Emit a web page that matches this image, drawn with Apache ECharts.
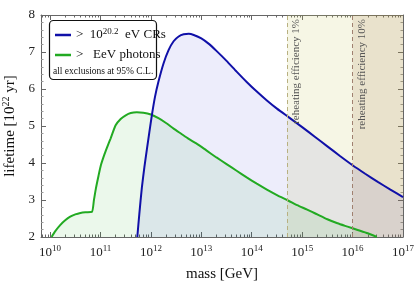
<!DOCTYPE html>
<html>
<head>
<meta charset="utf-8">
<script src="https://cdn.jsdelivr.net/npm/echarts@6/dist/echarts.min.js"></script>
<style>html,body{margin:0;padding:0;background:#fff}#c{width:415px;height:290px}</style>
</head>
<body>
<div id="c"></div>
<script>
// log10(mass / GeV) and lifetime [10^22 yr]
const blueLogMass = [11.73, 11.77, 11.82, 11.87, 11.92, 11.97, 12.02, 12.08, 12.15, 12.25, 12.35, 12.45, 12.55, 12.65, 12.75, 12.85, 13.0, 13.15, 13.3, 13.5, 13.7, 13.9, 14.1, 14.3, 14.5, 14.73, 15.0, 15.25, 15.5, 15.75, 16.0, 16.25, 16.5, 16.75, 17.0];
const blueLife    = [2.0,   2.62,  3.33,  3.88,  4.37,  4.84,  5.30,  5.78,  6.20,  6.69,  7.05,  7.29,  7.42,  7.48,  7.49,  7.46,  7.37,  7.22,  7.03, 6.76, 6.47, 6.19, 5.93, 5.69, 5.47, 5.24, 4.97, 4.71, 4.45, 4.19, 3.94, 3.71, 3.49, 3.28, 3.08];
const greenLogMass = [10.03, 10.1, 10.2, 10.3, 10.4, 10.5, 10.6, 10.7, 10.83, 10.87, 10.91, 10.96, 11.01, 11.08, 11.15, 11.2, 11.3, 11.4, 11.5, 11.6, 11.72, 11.85, 12.0, 12.15, 12.3, 12.45, 12.6, 12.75, 12.9, 13.1, 13.3, 13.5, 13.7, 13.9, 14.1, 14.3, 14.5, 14.73, 14.9, 15.1, 15.3, 15.5, 15.7, 15.9, 16.1, 16.3, 16.48];
const greenLife    = [2.00,  2.15, 2.32, 2.45, 2.55, 2.61, 2.65, 2.67, 2.68,  3.00,  3.32,  3.65,  3.95,  4.24,  4.49,  4.66, 5.02, 5.19, 5.29, 5.35, 5.37,  5.36,  5.31, 5.21,  5.08, 4.93,  4.79, 4.65,  4.53, 4.34, 4.15, 3.97, 3.79, 3.61, 3.44, 3.28, 3.13, 2.98,  2.86, 2.74, 2.61, 2.48, 2.37, 2.28, 2.19, 2.10, 2.00];
const seriesNames = ['> 10^20.2 eV CRs', '> EeV photons'];
const noteText = 'all exclusions at 95% C.L.';
const reheatLogMass = [14.7, 16];
const reheatLabels = ['reheating efficiency 1%', 'reheating efficiency 10%'];
const xMajor = [10, 11, 12, 13, 14, 15, 16, 17];
const yTicks = [2, 3, 4, 5, 6, 7, 8];
const xRange = [9.82, 17];

const xMinor = [];
for (let n = 9; n < 17; n++) for (let k = 2; k <= 9; k++) {
  const v = n + Math.log10(k);
  if (v >= xRange[0] && v <= xRange[1]) xMinor.push(v);
}
const FONT = 'Liberation Serif';
const axisColor = '#666';
function xAxisDef(pos, values, len, showLine, showLabel) {
  return {
    type: 'value', position: pos, min: xRange[0], max: xRange[1],
    axisLine: {show: showLine, lineStyle: {color: axisColor, width: 1}},
    axisTick: {show: true, inside: true, length: len, customValues: values, lineStyle: {color: axisColor}},
    axisLabel: showLabel ? {
      customValues: xMajor, margin: 7,
      formatter: v => '{b|10}{s|' + Math.round(v) + '}',
      rich: {b: {fontFamily: FONT, fontSize: 13, color: '#222'}, s: {fontFamily: FONT, fontSize: 9, color: '#222', padding: [0, 0, 8, 0]}}
    } : {show: false},
    splitLine: {show: false}
  };
}
function yAxisDef(pos, showLabel) {
  return {
    type: 'value', position: pos, min: yTicks[0], max: yTicks[yTicks.length - 1], interval: 1,
    axisLine: {show: true, lineStyle: {color: axisColor, width: 1}},
    axisTick: {show: true, inside: true, length: 5, lineStyle: {color: axisColor}},
    minorTick: {show: true, splitNumber: 5, length: 2.5, lineStyle: {color: '#999'}},
    axisLabel: showLabel ? {fontFamily: FONT, fontSize: 13, color: '#222', margin: 6} : {show: false},
    splitLine: {show: false}
  };
}
const xs = [
  xAxisDef('bottom', xMajor, 5, true, true),
  xAxisDef('bottom', xMinor, 2.5, false, false),
  xAxisDef('top', xMajor, 5, true, false),
  xAxisDef('top', xMinor, 2.5, false, false)
];
xs[0].name = 'mass [GeV]';
xs[0].nameLocation = 'middle';
xs[0].nameGap = 30;
xs[0].nameTextStyle = {fontFamily: FONT, fontSize: 15, color: '#111'};
const ys = [yAxisDef('left', true), yAxisDef('right', false)];
ys[0].name = '{t|lifetime [10}{s|22}{t| yr]}';
ys[0].nameLocation = 'middle';
ys[0].nameGap = 21;
ys[0].nameTextStyle = {rich: {t: {fontFamily: FONT, fontSize: 15, color: '#111'}, s: {fontFamily: FONT, fontSize: 10, color: '#111', padding: [0, 0, 8, 0]}}};

const zip = (a, b) => a.map((v, i) => [v, b[i]]);

const chart = echarts.init(document.getElementById('c'), null, {renderer: 'canvas'});
chart.setOption({
  animation: false,
  grid: {left: 41, right: 12, top: 15, bottom: 53, outerBoundsMode: 'none', containLabel: false},
  xAxis: xs,
  yAxis: ys,
  legend: {
    left: 50, top: 22, orient: 'vertical', itemWidth: 16, itemHeight: 2.5, itemGap: 7, icon: 'rect',
    data: seriesNames,
    formatter: name => name === seriesNames[0] ? '{t|>  10}{s|20.2}{t|  eV CRs}' : '{t|>   EeV photons}',
    textStyle: {rich: {t: {fontFamily: FONT, fontSize: 13, color: '#111'}, s: {fontFamily: FONT, fontSize: 9, color: '#111', padding: [0, 0, 7, 0]}}}
  },
  graphic: [
    {type: 'rect', z: 3, shape: {x: 49.5, y: 20.5, width: 107, height: 59, r: 4}, style: {fill: '#fff', stroke: '#111', lineWidth: 1.2}},
    {type: 'text', z: 5, x: 53, y: 71, style: {text: noteText, fontFamily: FONT, fontSize: 9.5, fill: '#111', verticalAlign: 'middle'}}
  ],
  series: [
    {
      name: 'bands', type: 'line', data: [], silent: true,
      markArea: {silent: true, data: [
        [{xAxis: reheatLogMass[0], itemStyle: {color: 'rgba(200,200,100,0.17)'}}, {xAxis: xRange[1], yAxis: 8}],
        [{xAxis: reheatLogMass[1], itemStyle: {color: 'rgba(150,100,50,0.14)'}}, {xAxis: xRange[1], yAxis: 8}]
      ]},
      markLine: {silent: true, symbol: 'none', data: [
        {xAxis: reheatLogMass[0], lineStyle: {color: '#b8b080', type: [4, 3], width: 1}, label: {formatter: reheatLabels[0]}},
        {xAxis: reheatLogMass[1], lineStyle: {color: '#a08070', type: [4, 3], width: 1}, label: {formatter: reheatLabels[1]}}
      ], label: {position: 'insideEndBottom', fontFamily: FONT, fontSize: 11, color: '#555', distance: 4}}
    },
    {
      name: seriesNames[1], type: 'line', data: zip(greenLogMass, greenLife), smooth: 0.2, showSymbol: false,
      lineStyle: {color: '#22aa22', width: 2}, itemStyle: {color: '#22aa22'},
      areaStyle: {origin: 'start', color: 'rgba(0,170,0,0.11)'}, z: 2
    },
    {
      name: seriesNames[0], type: 'line', data: zip(blueLogMass, blueLife), smooth: 0.2, showSymbol: false,
      lineStyle: {color: '#1010a8', width: 2}, itemStyle: {color: '#1010a8'},
      areaStyle: {origin: 'start', color: 'rgba(0,0,200,0.10)'}, z: 2
    }
  ]
});
</script>
</body>
</html>
